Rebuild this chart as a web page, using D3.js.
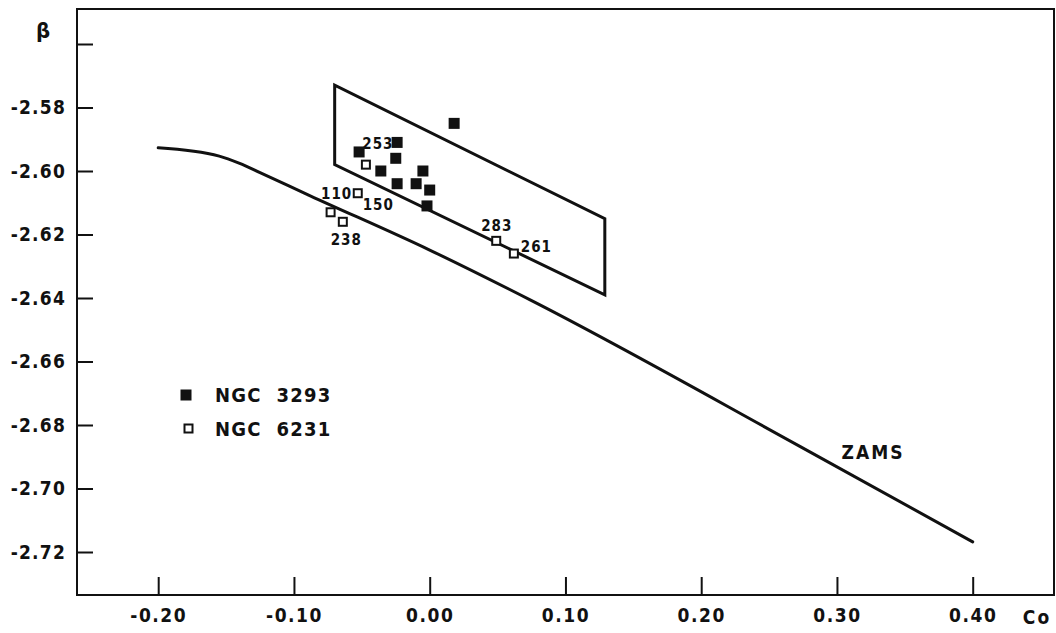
<!DOCTYPE html>
<html>
<head>
<meta charset="utf-8">
<script src="https://cdn.jsdelivr.net/npm/d3@7/dist/d3.min.js"></script>
<style>
  html, body { margin: 0; padding: 0; background: #fff; }
  svg { display: block; }
  text { font-family: "DejaVu Sans Condensed", "Liberation Sans Narrow", "DejaVu Sans", sans-serif; font-stretch: condensed; font-weight: bold; fill: #111; }
</style>
</head>
<body>
<svg id="chart" width="1056" height="633"></svg>
<script>
// Tick values and labels
const xTicks = [-0.20, -0.10, 0.00, 0.10, 0.20, 0.30, 0.40];
const xTickLabels = ["-0.20", "-0.10", "0.00", "0.10", "0.20", "0.30", "0.40"];
const yTicks = [-2.56, -2.58, -2.60, -2.62, -2.64, -2.66, -2.68, -2.70, -2.72];
const yTickLabels = ["", "-2.58", "-2.60", "-2.62", "-2.64", "-2.66", "-2.68", "-2.70", "-2.72"];

// NGC 3293 (filled squares): c0, beta
const ngc3293C = [0.018, -0.052, -0.024, -0.025, -0.036, -0.005, -0.024, -0.010, 0.000, -0.002];
const ngc3293B = [-2.585, -2.594, -2.591, -2.596, -2.600, -2.600, -2.604, -2.604, -2.606, -2.611];

// NGC 6231 (open squares): c0, beta, star numbers
const ngc6231C = [-0.047, -0.053, -0.073, -0.064, 0.049, 0.062];
const ngc6231B = [-2.598, -2.607, -2.613, -2.616, -2.622, -2.626];
const ngc6231Id = ["253", "150", "110", "238", "283", "261"];

// Zero-age main sequence
const zamsC = [-0.200, -0.155, -0.140, -0.125, -0.088, 0.000, 0.074, 0.273, 0.400];
const zamsB = [-2.5927, -2.5953, -2.5976, -2.6005, -2.6078, -2.6249, -2.6406, -2.6868, -2.7168];

// Parallelogram region (corners in c0, beta)
const boxC = [-0.070, -0.070, 0.129, 0.129];
const boxB = [-2.573, -2.598, -2.639, -2.615];

const svg = d3.select("#chart");
const frame = { left: 77, right: 1054, top: 9, bottom: 595 };

const x = d3.scaleLinear().domain([-0.20, 0.40]).range([158.2, 972.7]);
const y = d3.scaleLinear().domain([-2.58, -2.72]).range([107.5, 552]);

// Frame
svg.append("rect")
  .attr("x", frame.left).attr("y", frame.top)
  .attr("width", frame.right - frame.left).attr("height", frame.bottom - frame.top)
  .attr("fill", "none").attr("stroke", "#111").attr("stroke-width", 2);

// X axis: inward ticks
const xAxis = svg.append("g")
  .attr("transform", `translate(0,${frame.bottom})`)
  .call(d3.axisBottom(x).tickValues(xTicks).tickSize(-18).tickPadding(14)
    .tickFormat((d, i) => xTickLabels[i]));
xAxis.select(".domain").remove();
xAxis.selectAll(".tick line").attr("stroke", "#111").attr("stroke-width", 2);
xAxis.selectAll(".tick text").attr("font-size", 19).attr("letter-spacing", 1.5)
  .attr("font-family", null).attr("fill", "#111");

// Y axis: inward ticks
const yAxis = svg.append("g")
  .attr("transform", `translate(${frame.left},0)`)
  .call(d3.axisLeft(y).tickValues(yTicks).tickSize(-16).tickPadding(11)
    .tickFormat((d, i) => yTickLabels[i]));
yAxis.select(".domain").remove();
yAxis.selectAll(".tick line").attr("stroke", "#111").attr("stroke-width", 2);
yAxis.selectAll(".tick text").attr("font-size", 19).attr("letter-spacing", 1.2)
  .attr("font-family", null).attr("fill", "#111");

// Axis titles
svg.append("text").attr("x", 1037).attr("y", 617).attr("dy", "0.35em")
  .attr("text-anchor", "middle").attr("font-size", 19).attr("letter-spacing", 2).text("Co");
svg.append("text").attr("x", 43).attr("y", 30).attr("dy", "0.35em")
  .attr("text-anchor", "middle").attr("font-size", 22).attr("font-weight", "normal").text("β");

// ZAMS curve
const zams = zamsC.map((c, i) => [c, zamsB[i]]);
svg.append("path")
  .datum(zams)
  .attr("d", d3.line().x(d => x(d[0])).y(d => y(d[1])).curve(d3.curveMonotoneX))
  .attr("fill", "none").attr("stroke", "#111").attr("stroke-width", 3)
  .attr("stroke-linecap", "round");
svg.append("text").attr("x", 873).attr("y", 452).attr("dy", "0.35em")
  .attr("text-anchor", "middle").attr("font-size", 19).attr("letter-spacing", 2).text("ZAMS");

// Parallelogram
const box = boxC.map((c, i) => [x(c), y(boxB[i])]);
svg.append("polygon")
  .attr("points", box.map(p => p.join(",")).join(" "))
  .attr("fill", "none").attr("stroke", "#111").attr("stroke-width", 3)
  .attr("stroke-linejoin", "miter");

// NGC 3293 points
const fs = 11;
svg.append("g").selectAll("rect")
  .data(ngc3293C.map((c, i) => [c, ngc3293B[i]]))
  .join("rect")
  .attr("x", d => x(d[0]) - fs / 2).attr("y", d => y(d[1]) - fs / 2)
  .attr("width", fs).attr("height", fs).attr("fill", "#111");

// NGC 6231 points
const os = 8;
const ngc6231 = ngc6231C.map((c, i) => ({ c, b: ngc6231B[i], id: ngc6231Id[i] }));
svg.append("g").selectAll("rect")
  .data(ngc6231)
  .join("rect")
  .attr("x", d => x(d.c) - os / 2).attr("y", d => y(d.b) - os / 2)
  .attr("width", os).attr("height", os)
  .attr("fill", "#fff").attr("stroke", "#111").attr("stroke-width", 2);

// Star number labels
const labelOffset = {
  "253": [12, -20.5], "150": [20.5, 11.5], "110": [6, -19],
  "238": [3.5, 18], "283": [0.5, -15], "261": [22.5, -6.5]
};
svg.append("g").selectAll("text")
  .data(ngc6231)
  .join("text")
  .attr("x", d => x(d.c) + labelOffset[d.id][0])
  .attr("y", d => y(d.b) + labelOffset[d.id][1])
  .attr("dy", "0.35em").attr("text-anchor", "middle")
  .attr("font-size", 15).attr("letter-spacing", 1)
  .text(d => d.id);

// Legend
const legend = svg.append("g");
legend.append("rect").attr("x", 180.5).attr("y", 389.5).attr("width", 11).attr("height", 11).attr("fill", "#111");
legend.append("rect").attr("x", 184.5).attr("y", 424.5).attr("width", 8).attr("height", 8)
  .attr("fill", "#fff").attr("stroke", "#111").attr("stroke-width", 2);
legend.append("text").attr("x", 215).attr("y", 395).attr("dy", "0.35em")
  .attr("font-size", 20).attr("letter-spacing", 1.2).attr("xml:space", "preserve").text("NGC  3293");
legend.append("text").attr("x", 215).attr("y", 428.5).attr("dy", "0.35em")
  .attr("font-size", 20).attr("letter-spacing", 1.2).attr("xml:space", "preserve").text("NGC  6231");
</script>
</body>
</html>
